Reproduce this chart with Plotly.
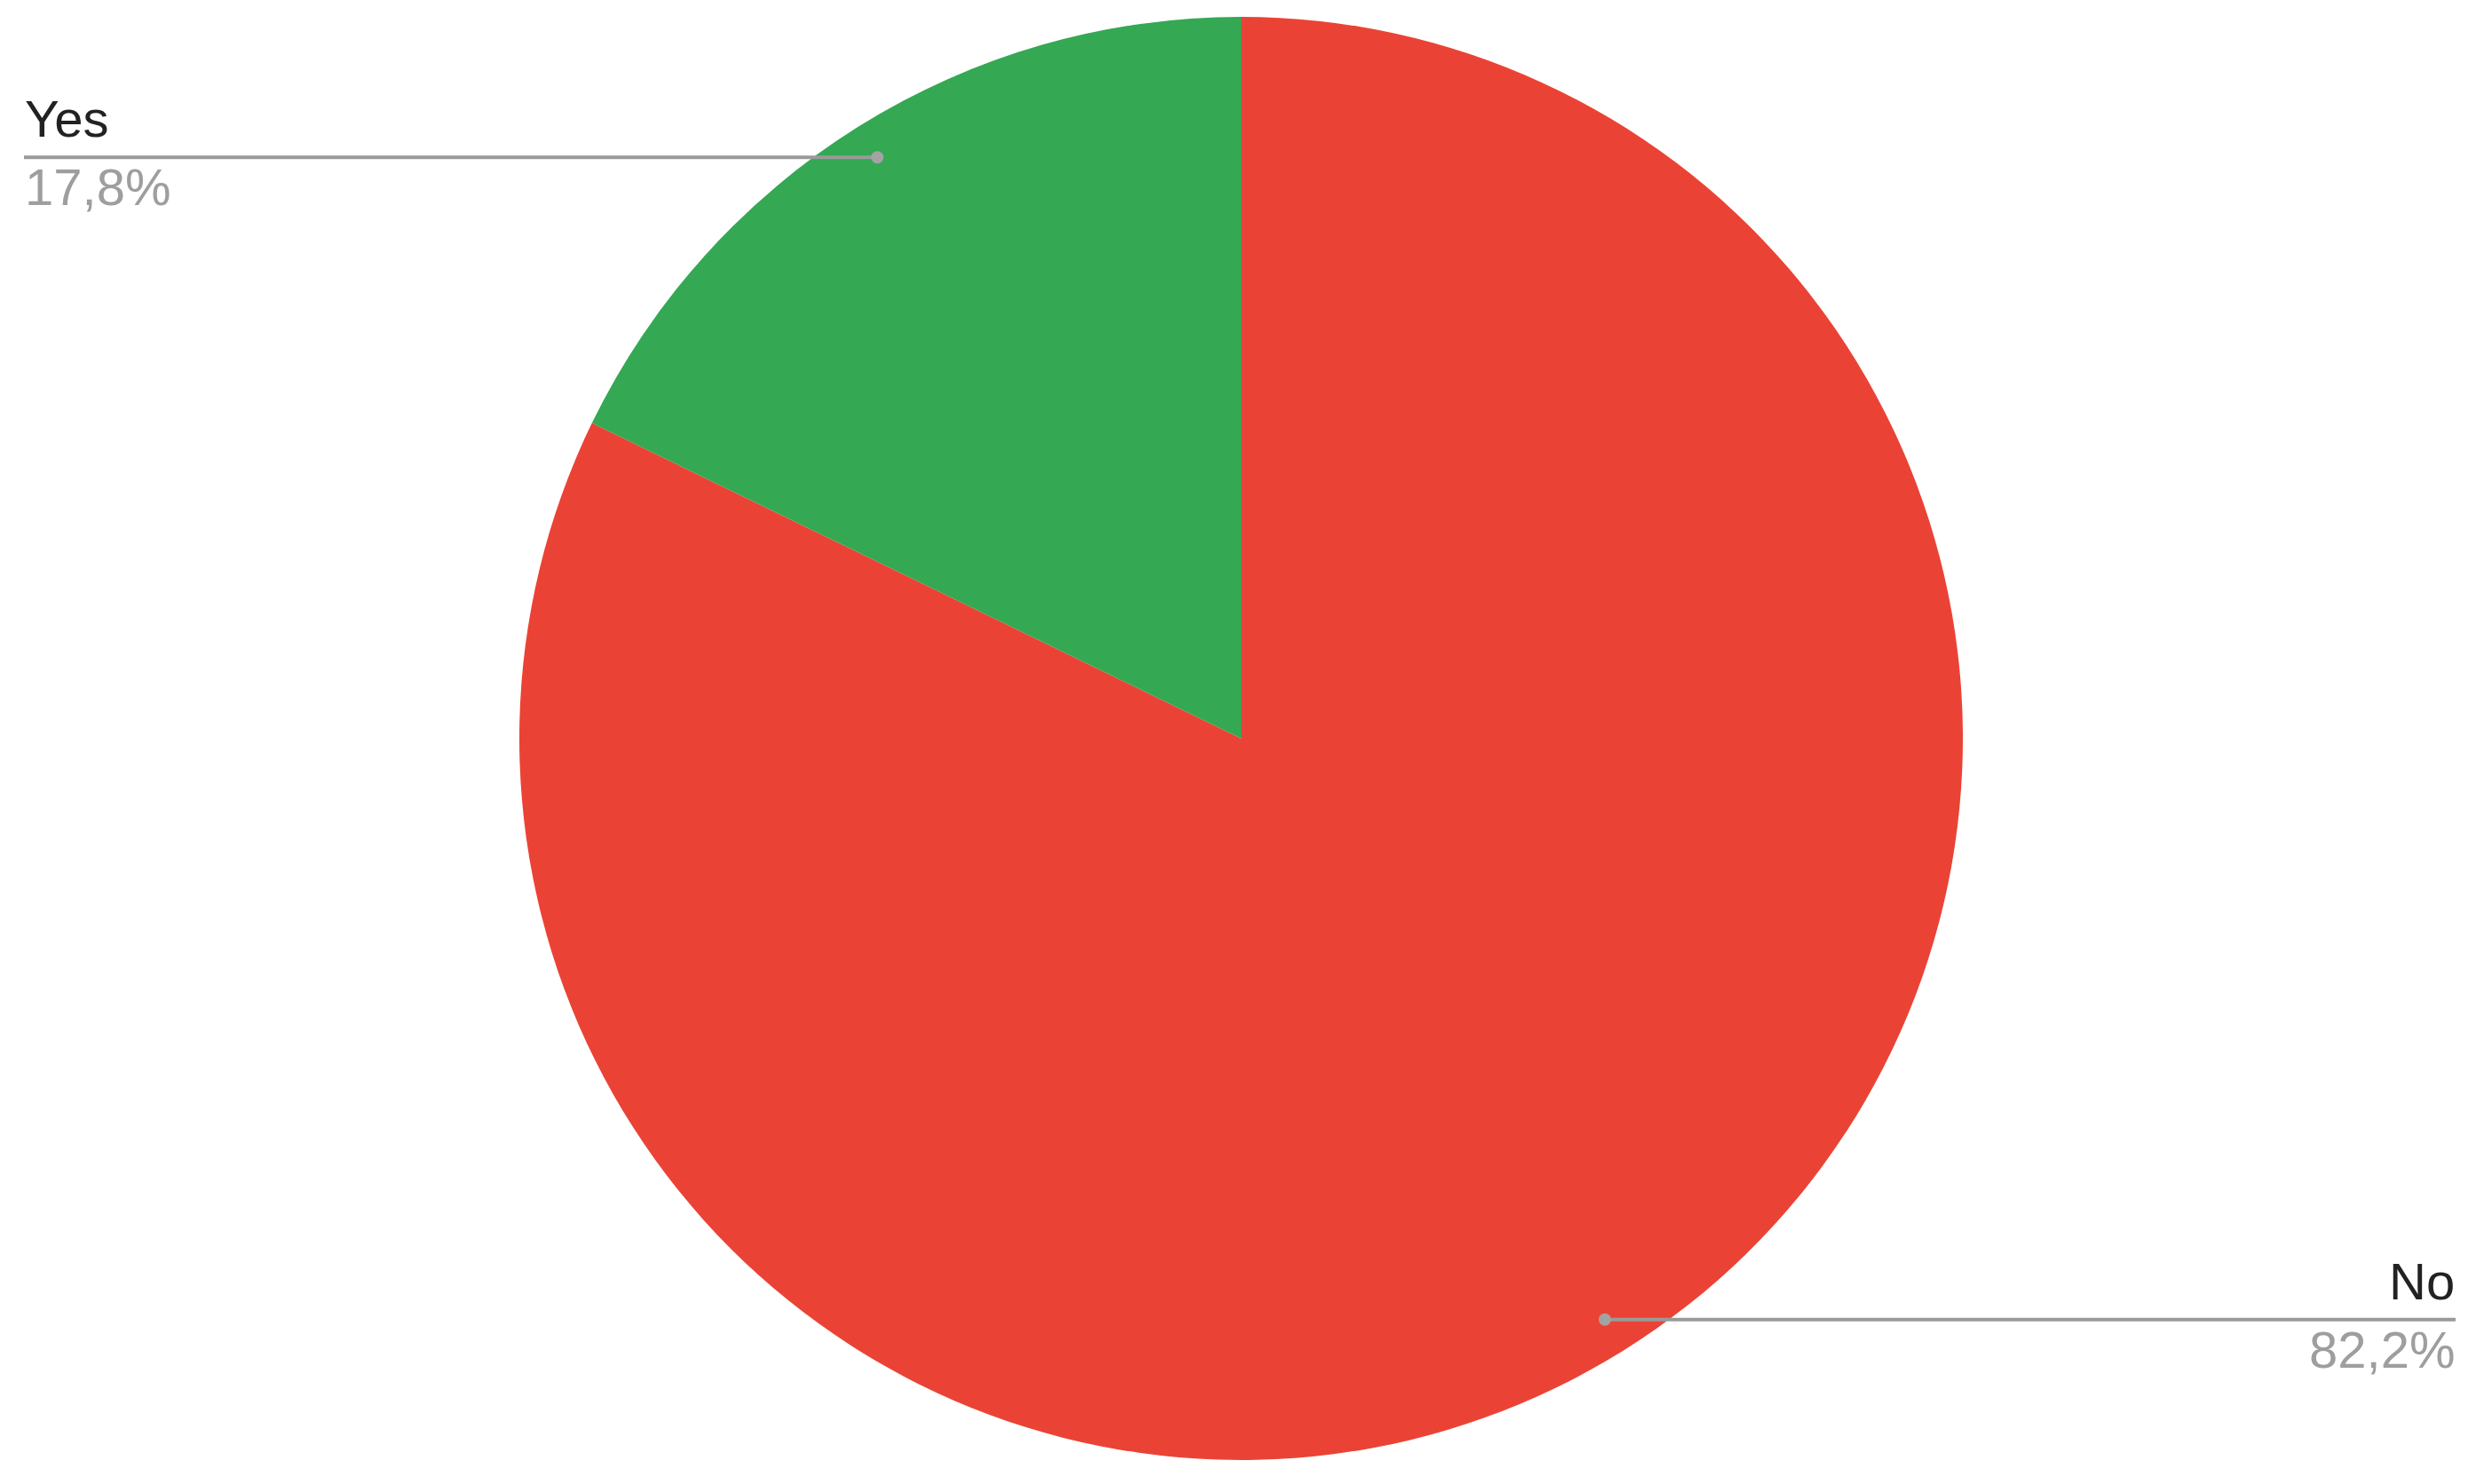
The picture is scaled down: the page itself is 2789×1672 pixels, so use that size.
import numpy as np
import plotly.graph_objects as go

labels = ["No", "Yes"]
values = [82.2, 17.8]
colors = ["#ea4335", "#34a853"]

W, H = 2789, 1672
OFF = 8  # browser body margin
CX, CY, R = 1398 - OFF, 832 - OFF, 813  # pie centre / radius in px (from top-left)
LEFT_EDGE, RIGHT_EDGE = 27 - OFF, 2766 - OFF

fig = go.Figure(go.Pie(
    labels=labels, values=values, sort=False, direction="clockwise",
    rotation=0, marker=dict(colors=colors, line=dict(width=0)),
    textinfo="none", hoverinfo="label+percent", showlegend=False,
    domain=dict(x=[(CX - R) / W, (CX + R) / W], y=[(H - CY - R) / H, (H - CY + R) / H]),
))


def px(x, y):
    return x / W, 1 - y / H


# leader lines + labels, placed at each slice's mid-angle (slices run clockwise from 12 o'clock)
total = sum(values)
start = 90.0
shapes, annotations = [], []
for lab, val in zip(labels, values):
    sweep = 360 * val / total
    mid = np.radians(start - sweep / 2)
    start -= sweep
    dx, dy = CX + 0.95 * R * np.cos(mid), CY - 0.95 * R * np.sin(mid)
    edge = LEFT_EDGE if np.cos(mid) < 0 else RIGHT_EDGE
    anchor = "left" if np.cos(mid) < 0 else "right"
    x0, y0 = px(dx, dy)
    x1, _ = px(edge, dy)
    shapes.append(dict(type="line", xref="paper", yref="paper", x0=x0, x1=x1, y0=y0, y1=y0,
                       line=dict(color="#9a9a9a", width=4)))
    shapes.append(dict(type="circle", xref="paper", yref="paper",
                       x0=(dx - 7) / W, x1=(dx + 7) / W, y0=1 - (dy + 7) / H, y1=1 - (dy - 7) / H,
                       fillcolor="#a3a3a3", line=dict(width=0)))
    pct = f"{100 * val / total:.1f}%".replace(".", ",")
    annotations.append(dict(text=lab, x=x1, y=y0, xref="paper", yref="paper", xanchor=anchor,
                            yanchor="bottom", showarrow=False, borderpad=0, yshift=10,
                            font=dict(size=58, color="#222222")))
    annotations.append(dict(text=pct, x=x1, y=y0, xref="paper", yref="paper", xanchor=anchor,
                            yanchor="top", showarrow=False, borderpad=0, yshift=0,
                            font=dict(size=58, color="#9e9e9e")))

fig.update_layout(
    width=W, height=H, margin=dict(l=0, r=0, t=0, b=0),
    paper_bgcolor="white", plot_bgcolor="white",
    font=dict(family="Arial, Liberation Sans, sans-serif"),
    shapes=shapes, annotations=annotations,
)

fig.write_html("out.html")
